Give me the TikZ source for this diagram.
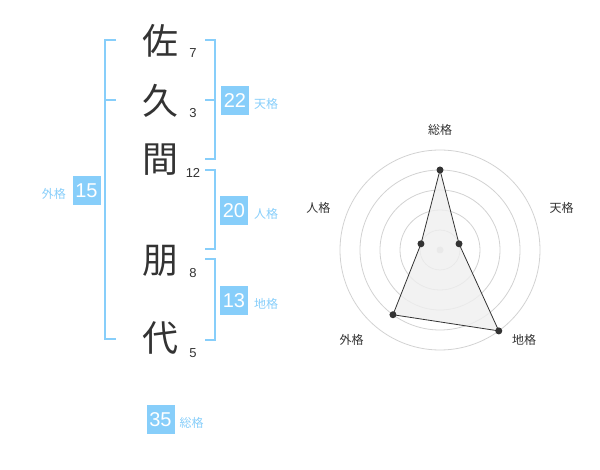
\documentclass[tikz,border=0pt]{standalone}
\usepackage{fontspec}
\setmainfont{Liberation Sans}
\newfontfamily\cjk{Noto Sans CJK JP}
\definecolor{sky}{RGB}{135,206,250}
\definecolor{ink}{RGB}{51,51,51}
\definecolor{ring}{RGB}{210,210,210}
\definecolor{area}{RGB}{239,239,239}
\begin{document}
\begin{tikzpicture}[x=1pt,y=-1pt,
  kanji/.style={text=ink,font=\cjk\fontsize{36}{36}\selectfont,inner sep=0pt},
  strokes/.style={text=ink,font=\fontsize{13}{13}\selectfont,inner sep=0pt},
  scorebox/.style={fill=sky,text=white,font=\fontsize{20}{20}\selectfont,minimum width=28pt,minimum height=29pt,inner sep=0pt},
  scorelab/.style={text=sky,font=\cjk\fontsize{12}{12}\selectfont,inner sep=0pt},
  bracket/.style={draw=sky,line width=2pt},
  axislab/.style={text=ink,font=\cjk\fontsize{12}{12}\selectfont,inner sep=0pt},
  dot/.style={circle,fill=ink,inner sep=0pt,minimum size=7pt}]
\useasboundingbox (0,0) rectangle (600,470);
% name characters
\node[kanji] (c1) at (160,41) {佐};
\node[kanji] (c2) at (160,101) {久};
\node[kanji] (c3) at (160,160) {間};
\node[kanji] (c4) at (160,261) {朋};
\node[kanji] (c5) at (160,338) {代};
% stroke counts
\node[strokes] (n1) at (193,53) {7};
\node[strokes] (n2) at (193,113) {3};
\node[strokes] (n3) at (193,173) {12};
\node[strokes] (n4) at (193,273) {8};
\node[strokes] (n5) at (193,353) {5};
% brackets
\draw[bracket] (116,40) -- (105,40) -- (105,339) -- (116,339);
\draw[bracket] (105,100) -- (116,100);
\draw[bracket] (205,40) -- (215,40) -- (215,159) -- (205,159);
\draw[bracket] (205,100) -- (215,100);
\draw[bracket] (205,170) -- (215,170) -- (215,249) -- (205,249);
\draw[bracket] (205,259) -- (215,259) -- (215,340) -- (205,340);
% scores
\node[scorebox] (b1) at (235,100.5) {22};
\node[scorelab,anchor=west] (l1) at (254,104) {天格};
\node[scorebox] (b2) at (234,210.5) {20};
\node[scorelab,anchor=west] (l2) at (254,214) {人格};
\node[scorebox] (b3) at (234,300.5) {13};
\node[scorelab,anchor=west] (l3) at (254,304) {地格};
\node[scorebox] (b4) at (86.5,190.5) {15};
\node[scorelab,anchor=east] (l4) at (66,193.5) {外格};
\node[scorebox] (b5) at (160.5,419.5) {35};
\node[scorelab,anchor=west] (l5) at (179.5,422.5) {総格};
% radar chart
\begin{scope}[shift={(440pt,-250pt)}]
  \foreach \r in {20,40,60,80,100} \draw[ring,line width=0.8pt] (0,0) circle[radius=\r pt];
  \fill[ring] (0,0) circle[radius=3.5pt];
  \coordinate (p1) at (90:80pt);
  \coordinate (p2) at (18:20pt);
  \coordinate (p3) at (-54:100pt);
  \coordinate (p4) at (-126:80pt);
  \coordinate (p5) at (162:20pt);
  \filldraw[fill=area,fill opacity=0.8,draw=ink,line width=0.8pt] (p1) -- (p2) -- (p3) -- (p4) -- (p5) -- cycle;
  \foreach \p in {p1,p2,p3,p4,p5} \node[dot] at (\p) {};
  \node[axislab] (a1) at (0pt,120pt) {総格};
  \node[axislab] (a2) at (121.7pt,41.7pt) {天格};
  \node[axislab] (a3) at (84pt,-90pt) {地格};
  \node[axislab] (a4) at (-88.3pt,-90pt) {外格};
  \node[axislab] (a5) at (-121.7pt,41.7pt) {人格};
\end{scope}
\end{tikzpicture}
\end{document}
